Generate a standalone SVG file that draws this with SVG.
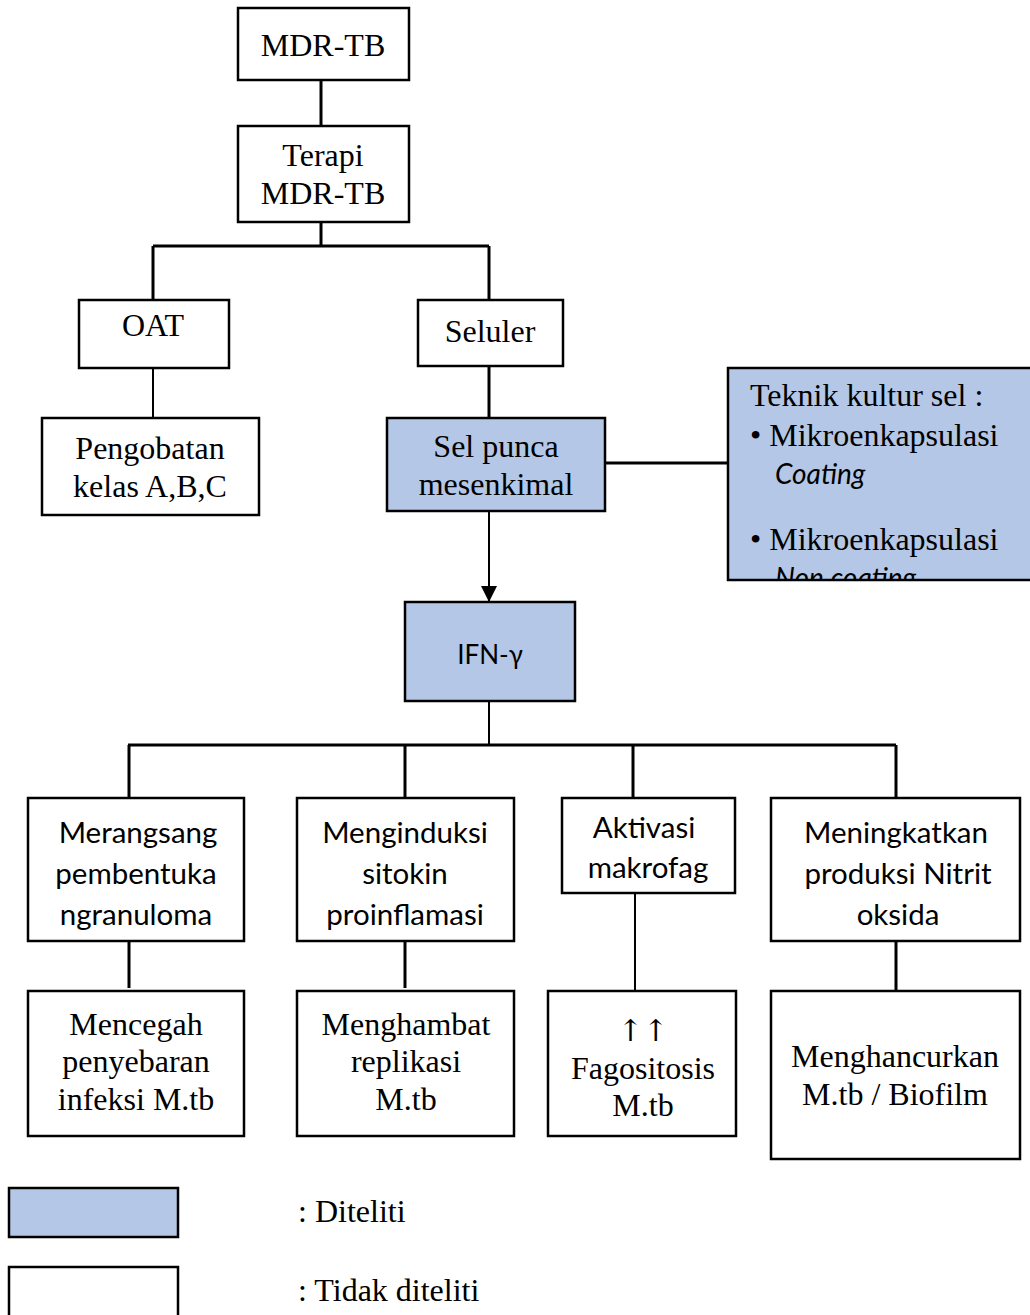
<svg xmlns="http://www.w3.org/2000/svg" width="1030" height="1315" viewBox="0 0 1030 1315">
<defs>
<style>
.box{fill:#ffffff;stroke:#000;stroke-width:2.5}
.hl{fill:#B4C7E7;stroke:#000;stroke-width:2.5}
.c{fill:none;stroke:#000;stroke-width:3}
.t{font-family:"Liberation Serif","Times New Roman",serif;font-size:32px;fill:#000;text-anchor:middle}
.s{font-family:Lato,"Open Sans",sans-serif;font-size:29.5px;fill:#000;text-anchor:middle}
.l{text-anchor:start}
.i{font-family:Lato,"Open Sans",sans-serif;font-style:italic;font-size:28px;fill:#000}
</style>
<marker id="arr" markerWidth="16" markerHeight="16" refX="15" refY="8" orient="auto" markerUnits="userSpaceOnUse" viewBox="0 0 16 16">
<path d="M0,0 L16,8 L0,16 z" fill="#000"/>
</marker>
<clipPath id="tk"><rect x="728" y="368" width="302" height="212"/></clipPath>
</defs>
<g id="connectors">
<path class="c" d="M321,80 V125"/>
<path class="c" d="M321,222 V246 M153,246 H489 M153,246 V300 M489,246 V300"/>
<path class="c" d="M153,368 V418" style="stroke-width:2"/>
<path class="c" d="M489,366 V418"/>
<path class="c" d="M605,463 H728"/>
<path class="c" d="M489,511 V601" style="stroke-width:2" marker-end="url(#arr)"/>
<path class="c" d="M489,701 V745" style="stroke-width:2"/>
<path class="c" d="M128,745 H896 M129,745 V798 M405,745 V798 M633,745 V798 M896,745 V798"/>
<path class="c" d="M129,941 V988 M405,941 V988 M896,941 V990"/>
<path class="c" d="M635,893 V991" style="stroke-width:2"/>
</g>
<g id="n-mdrtb"><rect class="box" x="238" y="8" width="171" height="72"/><text class="t" x="323" y="56">MDR-TB</text></g>
<g id="n-terapi"><rect class="box" x="238" y="126" width="171" height="96"/><text class="t" x="323" y="166">Terapi</text><text class="t" x="323" y="204">MDR-TB</text></g>
<g id="n-oat"><rect class="box" x="79" y="300" width="150" height="68"/><text class="t" x="153" y="336">OAT</text></g>
<g id="n-seluler"><rect class="box" x="418" y="300" width="145" height="66"/><text class="t" x="490" y="342">Seluler</text></g>
<g id="n-pengobatan"><rect class="box" x="42" y="418" width="217" height="97"/><text class="t" x="150" y="459">Pengobatan</text><text class="t" x="150" y="497">kelas A,B,C</text></g>
<g id="n-selpunca"><rect class="hl" x="387" y="418" width="218" height="93"/><text class="t" x="496" y="457">Sel punca</text><text class="t" x="496" y="495">mesenkimal</text></g>
<g id="n-teknik"><rect class="hl" x="728" y="368" width="304" height="212"/>
<g clip-path="url(#tk)">
<text class="t l" x="750" y="406">Teknik kultur sel :</text>
<text class="t l" x="750" y="446">• Mikroenkapsulasi</text>
<text class="i" x="775" y="484">Coating</text>
<text class="t l" x="750" y="550">• Mikroenkapsulasi</text>
<text class="i" x="775" y="588">Non coating</text>
</g></g>
<g id="n-ifn"><rect class="hl" x="405" y="602" width="170" height="99"/><text class="s" x="490" y="664" style="font-size:26px">IFN-γ</text></g>
<g id="n-merangsang"><rect class="box" x="28" y="798" width="216" height="143"/><text class="s" x="138" y="843"> Merangsang</text><text class="s" x="136" y="884">pembentuka</text><text class="s" x="136" y="925">ngranuloma</text></g>
<g id="n-menginduksi"><rect class="box" x="297" y="798" width="217" height="143"/><text class="s" x="405" y="843">Menginduksi</text><text class="s" x="405" y="884">sitokin</text><text class="s" x="405" y="925">proinflamasi</text></g>
<g id="n-aktivasi"><rect class="box" x="562" y="798" width="173" height="95"/><text class="s" x="644" y="838">Aktivasi</text><text class="s" x="648" y="878">makrofag</text></g>
<g id="n-meningkatkan"><rect class="box" x="771" y="798" width="249" height="143"/><text class="s" x="896" y="843">Meningkatkan</text><text class="s" x="898" y="884">produksi Nitrit</text><text class="s" x="898" y="925">oksida</text></g>
<g id="n-mencegah"><rect class="box" x="28" y="991" width="216" height="145"/><text class="t" x="136" y="1035">Mencegah</text><text class="t" x="136" y="1072">penyebaran</text><text class="t" x="136" y="1110">infeksi M.tb</text></g>
<g id="n-menghambat"><rect class="box" x="297" y="991" width="217" height="145"/><text class="t" x="406" y="1035">Menghambat</text><text class="t" x="406" y="1072">replikasi</text><text class="t" x="406" y="1110">M.tb</text></g>
<g id="n-fagositosis"><rect class="box" x="548" y="991" width="188" height="145"/><text class="t" x="643" y="1041" style="font-family:'DejaVu Serif',serif;font-size:30px">↑↑</text><text class="t" x="643" y="1079">Fagositosis</text><text class="t" x="643" y="1116">M.tb</text></g>
<g id="n-menghancurkan"><rect class="box" x="771" y="991" width="249" height="168"/><text class="t" x="895" y="1067">Menghancurkan</text><text class="t" x="895" y="1105">M.tb / Biofilm</text></g>
<g id="legend">
<rect class="hl" x="9" y="1188" width="169" height="49"/><text class="t l" x="298" y="1222">: Diteliti</text>
<rect class="box" x="9" y="1267" width="169" height="50"/><text class="t l" x="298" y="1301">: Tidak diteliti</text>
</g>
</svg>
